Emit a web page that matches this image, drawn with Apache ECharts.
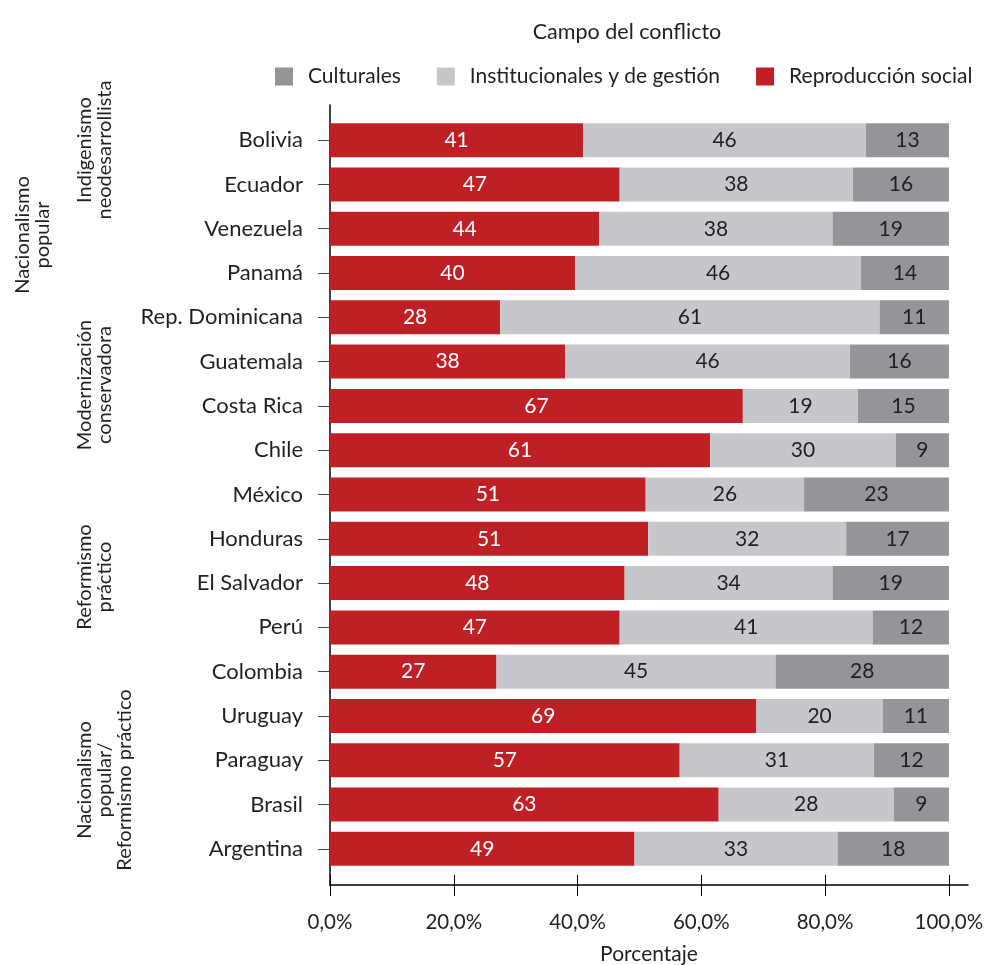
<!DOCTYPE html>
<html>
<head>
<meta charset="utf-8">
<script src="https://cdn.jsdelivr.net/npm/echarts@6/dist/echarts.min.js"></script>
<style>
html,body{margin:0;padding:0;background:#fff;}
#c{width:987px;height:965px;}
</style>
</head>
<body>
<div id="c"></div>
<script>
const categories = ['Bolivia','Ecuador','Venezuela','Panamá','Rep. Dominicana','Guatemala','Costa Rica','Chile','México','Honduras','El Salvador','Perú','Colombia','Uruguay','Paraguay','Brasil','Argentina'];
const reproduccionSocial = [40.9,46.8,43.5,39.6,27.5,38.0,66.7,61.4,51.0,51.4,47.6,46.8,26.9,68.9,56.5,62.8,49.2];
const institucionales = [45.7,37.7,37.7,46.2,61.3,46.0,18.6,30.0,25.6,32.0,33.6,40.9,45.1,20.4,31.4,28.3,32.8];
const culturales = [13.4,15.5,18.8,14.2,11.2,16.0,14.7,8.6,23.4,16.6,18.8,12.3,28.0,10.7,12.1,8.9,18.0];
const xTicks = [0,20,40,60,80,100];
const seriesNames = ['Culturales','Institucionales y de gestión','Reproducción social'];
const groupLabels = [
  {text:'Nacionalismo\npopular', x:33, y:235},
  {text:'Indigenismo\nneodesarrollista', x:95, y:150},
  {text:'Modernización\nconservadora', x:95, y:385},
  {text:'Reformismo\npráctico', x:95, y:577},
  {text:'Nacionalismo\npopular/\nReformismo práctico', x:105, y:780}
];

const FONT = 'Lato';
const TXT = '#231F20';
const chart = echarts.init(document.getElementById('c'));
const XMAX = 103.4;

function lbl(color){
  return {show:true, position:'inside', color:color, fontFamily:FONT, fontSize:21,
    formatter: p => Math.round(p.value)};
}

chart.setOption({
  animation:false,
  textStyle:{fontFamily:FONT},
  title:{text:'Campo del conflicto', left:622, top:16, textAlign:'center',
    textStyle:{fontFamily:FONT, fontSize:21.5, fontWeight:'normal', color:TXT}},
  legend:{data:seriesNames, left:270, top:61, itemWidth:18, itemHeight:18, itemGap:36,
    icon:'rect', textStyle:{fontFamily:FONT, fontSize:21, color:TXT, padding:[0,0,0,10]}},
  grid:[
    {left:330, right:17, top:118, height:753, containLabel:false, outerBoundsMode:'none'},
    {left:330, right:19, top:105, bottom:80, containLabel:false, outerBoundsMode:'none'}
  ],
  xAxis:[
    {gridIndex:0, type:'value', min:0, max:XMAX, show:false},
    {gridIndex:1, type:'value', min:0, max:103.1, position:'bottom',
      axisLine:{show:true, lineStyle:{color:'#000', width:1.5}},
      axisTick:{show:true, length:11, customValues:xTicks, lineStyle:{color:'#000', width:1}},
      axisLabel:{show:true, customValues:xTicks, margin:27, fontFamily:FONT, fontSize:20.5, color:TXT,
        formatter: v => v.toFixed(1).replace('.', ',') + '%'},
      splitLine:{show:false},
      name:'Porcentaje', nameLocation:'middle', nameGap:59, nameMoveOverlap:false,
      nameTextStyle:{fontFamily:FONT, fontSize:21, color:TXT}},
    {gridIndex:1, type:'value', min:0, max:103.1, position:'bottom',
      axisLine:{show:false},
      axisTick:{show:true, inside:true, length:10, customValues:xTicks, lineStyle:{color:'#000', width:1}},
      axisLabel:{show:false}, splitLine:{show:false}}
  ],
  yAxis:[
    {gridIndex:0, type:'category', data:categories, inverse:true,
      axisLine:{show:false},
      axisTick:{show:true, alignWithLabel:true, length:12, lineStyle:{color:'#444'}},
      axisLabel:{margin:27, fontFamily:FONT, fontSize:22, color:TXT}},
    {gridIndex:1, type:'value', min:0, max:1,
      axisLine:{show:true, lineStyle:{color:'#000', width:1.5}},
      axisTick:{show:false}, axisLabel:{show:false}, splitLine:{show:false}}
  ],
  series:[
    {name:'Reproducción social', type:'bar', stack:'t', data:reproduccionSocial, barWidth:34,
      itemStyle:{color:'#BE2026'}, label:lbl('#ffffff'), xAxisIndex:0, yAxisIndex:0},
    {name:'Institucionales y de gestión', type:'bar', stack:'t', data:institucionales, barWidth:34,
      itemStyle:{color:'#C6C7CA'}, label:lbl(TXT), xAxisIndex:0, yAxisIndex:0},
    {name:'Culturales', type:'bar', stack:'t', data:culturales, barWidth:34,
      itemStyle:{color:'#939598'}, label:lbl(TXT), xAxisIndex:0, yAxisIndex:0}
  ],
  graphic: groupLabels.map(g => ({
    type:'text', x:g.x, y:g.y, rotation:Math.PI/2,
    style:{text:g.text, fontFamily:FONT, fontSize:20, fill:TXT, align:'center', verticalAlign:'middle', lineHeight:20}
  }))
});
</script>
</body>
</html>
